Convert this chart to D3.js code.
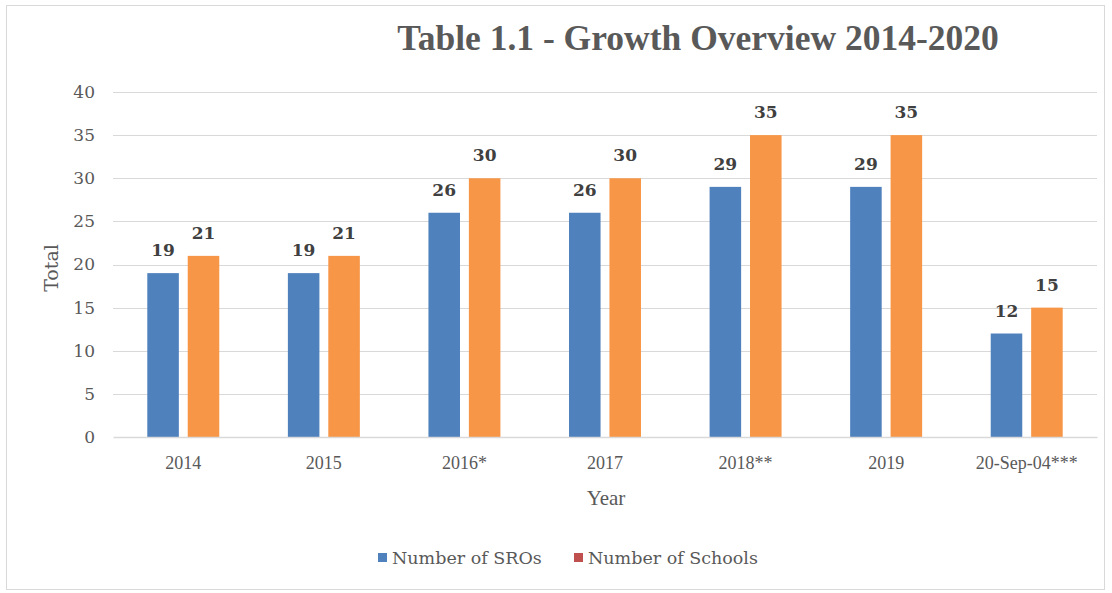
<!DOCTYPE html>
<html>
<head>
<meta charset="utf-8">
<script src="https://cdn.jsdelivr.net/npm/d3@7"></script>
<style>
  body { margin: 0; background: #fff; }
  text { font-family: "DejaVu Serif", serif; fill: #595959; }
</style>
</head>
<body>
<svg width="1112" height="593"></svg>
<script>
// data
const years = ["2014", "2015", "2016*", "2017", "2018**", "2019", "20-Sep-04***"];
const sros = [19, 19, 26, 26, 29, 29, 12];
const schools = [21, 21, 30, 30, 35, 35, 15];
const seriesNames = ["Number of SROs", "Number of Schools"];
const yTicks = [0, 5, 10, 15, 20, 25, 30, 35, 40];

const barColors = ["#4f81bd", "#f79646"];
const legendColors = ["#4f81bd", "#c0504d"];

const svg = d3.select("svg");

// chart border
svg.append("rect")
  .attr("x", 6.5).attr("y", 5.5)
  .attr("width", 1098).attr("height", 584)
  .attr("fill", "none").attr("stroke", "#d9d9d9");

const margin = { left: 113, right: 1097, top: 92, bottom: 437 };

const x0 = d3.scaleBand().domain(years)
  .range([margin.left, margin.right])
  .paddingInner(0.488).paddingOuter(0.244);
const x1 = d3.scaleBand().domain([0, 1])
  .range([0, x0.bandwidth()])
  .paddingInner(0.22);
const y = d3.scaleLinear().domain([0, 40]).range([margin.bottom, margin.top]);

// gridlines
svg.append("g").selectAll("line")
  .data(yTicks.slice(1))
  .enter().append("line")
  .attr("x1", margin.left).attr("x2", margin.right)
  .attr("y1", d => Math.round(y(d)) + 0.5).attr("y2", d => Math.round(y(d)) + 0.5)
  .attr("stroke", "#d9d9d9");

// y axis labels
const yAxis = d3.axisLeft(y).tickValues(yTicks).tickSize(0).tickPadding(0);
const yg = svg.append("g").attr("transform", `translate(${margin.left - 18},0)`).call(yAxis);
yg.select(".domain").remove();
yg.selectAll("text").style("font-size", "17px").style("fill", "#595959");

// bars
const rows = years.map((yr, i) => ({ year: yr, vals: [sros[i], schools[i]] }));
const groups = svg.append("g").selectAll("g")
  .data(rows).enter().append("g")
  .attr("transform", d => `translate(${x0(d.year)},0)`);

groups.selectAll("rect")
  .data(d => d.vals.map((v, k) => ({ k, v })))
  .enter().append("rect")
  .attr("x", d => x1(d.k))
  .attr("width", x1.bandwidth())
  .attr("y", d => y(d.v))
  .attr("height", d => y(0) - y(d.v))
  .attr("fill", d => barColors[d.k]);

groups.selectAll("text.val")
  .data(d => d.vals.map((v, k) => ({ k, v })))
  .enter().append("text")
  .attr("class", "val")
  .attr("x", d => x1(d.k) + x1.bandwidth() / 2)
  .attr("y", d => y(d.v) - 17)
  .attr("text-anchor", "middle")
  .style("font-size", "17px").style("font-weight", "bold")
  .style("fill", "#404040")
  .text(d => d.v);

// x axis
const xAxis = d3.axisBottom(x0).tickSize(0).tickPadding(19);
const xg = svg.append("g").attr("transform", `translate(0,${margin.bottom})`).call(xAxis);
xg.select(".domain").attr("stroke", "#d9d9d9").attr("stroke-width", 1.5);
xg.selectAll("text")
  .style("font-family", "'Liberation Serif', serif")
  .style("font-size", "18px").style("fill", "#595959");

// titles
svg.append("text")
  .attr("x", 698).attr("y", 50)
  .attr("text-anchor", "middle")
  .style("font-family", "'Liberation Serif', serif")
  .style("font-size", "35.5px").style("font-weight", "bold")
  .style("fill", "#595959")
  .text("Table 1.1 - Growth Overview 2014-2020");

svg.append("text")
  .attr("x", 606).attr("y", 505)
  .attr("text-anchor", "middle")
  .style("font-family", "'Liberation Serif', serif")
  .style("font-size", "21px")
  .text("Year");

svg.append("text")
  .attr("transform", "translate(58,268) rotate(-90)")
  .attr("text-anchor", "middle")
  .style("font-size", "19px")
  .text("Total");

// legend
const legend = svg.append("g");
const legendX = [378, 574];
seriesNames.forEach((name, i) => {
  legend.append("rect")
    .attr("x", legendX[i]).attr("y", 553)
    .attr("width", 9).attr("height", 9)
    .attr("fill", legendColors[i]);
  legend.append("text")
    .attr("x", legendX[i] + 14).attr("y", 564)
    .style("font-size", "17.5px")
    .text(name);
});
</script>
</body>
</html>
